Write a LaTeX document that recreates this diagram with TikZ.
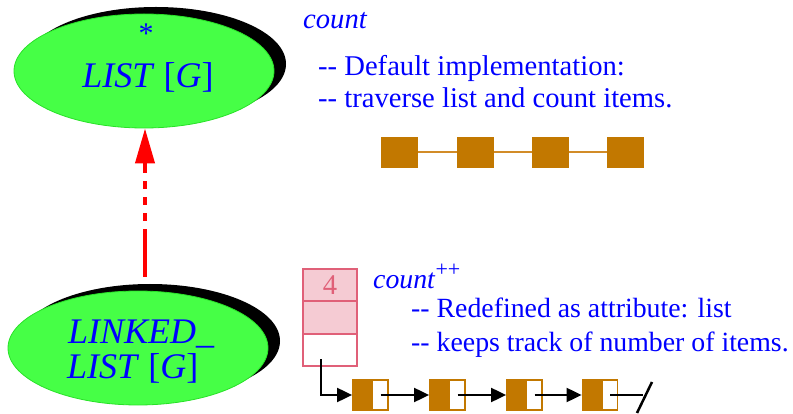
\documentclass[tikz,border=0pt]{standalone}
\usepackage{fontspec}
\setmainfont{Liberation Serif}
\usetikzlibrary{shapes.geometric,arrows.meta}
\definecolor{lgreen}{RGB}{70,255,70}
\definecolor{lgreenb}{RGB}{40,225,40}
\definecolor{cbrown}{RGB}{194,120,0}
\definecolor{cbrownl}{RGB}{210,140,40}
\definecolor{pinkfill}{RGB}{245,203,211}
\definecolor{pinkline}{RGB}{224,96,120}
\definecolor{tblue}{RGB}{0,0,255}
\tikzset{
  classell/.style={ellipse, fill=lgreen, draw=lgreenb, line width=0.8pt,
    minimum width=260pt, minimum height=114pt, inner sep=0pt},
  shadowell/.style={fill=black},
  bigtxt/.style={text=tblue, inner sep=0pt, font=\fontsize{36}{40}\selectfont},
  txt/.style={text=tblue, inner sep=0pt, anchor=base west, font=\fontsize{28.6}{33}\selectfont},
  txtb/.style={txt, font=\fontsize{27.8}{33}\selectfont},
  topbox/.style={rectangle, fill=cbrown, minimum width=37pt, minimum height=31pt, inner sep=0pt},
  cellbox/.style={rectangle, draw=pinkline, line width=2pt, minimum width=54pt, minimum height=32pt, inner sep=0pt},
  listbox/.style={rectangle, draw=cbrown, line width=1.8pt, fill=white, minimum width=35pt, minimum height=30pt, inner sep=0pt,
    path picture={\fill[cbrown] (path picture bounding box.south west) rectangle ([xshift=20pt]path picture bounding box.north west);}},
  link/.style={black, line width=2pt, -{Triangle[length=15pt,width=14pt]}},
  inherit/.style={red, line width=4pt, dash pattern=on 48pt off 8pt on 8pt off 8pt on 8pt off 8pt on 8pt off 8pt,
    -{Triangle[length=35pt,width=19pt]}}
}
\begin{document}
\begin{tikzpicture}[x=1pt,y=-1pt]
\useasboundingbox (0,0) rectangle (793,414);

% top class ellipse
\fill[shadowell] (156,64) ellipse (130pt and 57pt);
\node[classell] (list) at (144,71) {};
\node[bigtxt, font=\fontsize{30}{30}\selectfont] (star) at (146,34) {*};
\node[bigtxt, anchor=base] (listname) at (148,88) {\textit{LIST} [\textit{G}]};

% bottom class ellipse
\fill[shadowell] (150,341) ellipse (130pt and 57pt);
\node[classell] (linked) at (138,348) {};
\node[bigtxt, anchor=base west] (ln1) at (68,343) {\textit{LINKED\_}};
\node[bigtxt, anchor=base west] (ln2) at (67,378) {\textit{LIST} [\textit{G}]};

% inheritance arrow
\coordinate (astart) at (145,277);
\draw[inherit] (astart) -- (astart |- list.south);

% top texts
\node[txt] (count1) at (303,29) {\textit{count}};
\node[txt] (c1a) at (318,76) {-{}- Default implementation:};
\node[txt] (c1b) at (318,108) {-{}- traverse list and count items.};

% top chain
\draw[cbrownl, line width=2pt] (418,152) -- (457,152);
\draw[cbrownl, line width=2pt] (493,152) -- (532,152);
\draw[cbrownl, line width=2pt] (569,152) -- (607,152);
\node[topbox] (t1) at (399.5,152.5) {};
\node[topbox] (t2) at (475,152.5) {};
\node[topbox] (t3) at (550.5,152.5) {};
\node[topbox] (t4) at (625.5,152.5) {};

% pink object
\node[cellbox, fill=pinkfill, text=pinkline, font=\fontsize{28.6}{33}\selectfont] (cell1) at (330,285.5) {4};
\node[cellbox, fill=pinkfill] (cell2) at (330,317.5) {};
\node[cellbox, fill=white] (cell3) at (330,349.5) {};

% bottom texts
\node[txtb] (count2) at (373,288) {\textit{count}\raisebox{11pt}{\fontsize{22}{22}\selectfont ++}};
\node[txtb] (c2a) at (411,318) {-{}- Redefined as attribute: list};
\node[txtb] (c2b) at (411,351) {-{}- keeps track of number of items.};

% linked list
\node[listbox] (b1) at (370.5,395) {};
\node[listbox] (b2) at (447.5,395) {};
\node[listbox] (b3) at (524.5,395) {};
\node[listbox] (b4) at (600,395) {};
\coordinate (p0) at (321,359);
\draw[link] (p0) |- (b1.west);
\draw[link] ([xshift=10pt]b1.center) -- (b2.west);
\draw[link] ([xshift=10pt]b2.center) -- (b3.west);
\draw[link] ([xshift=10pt]b3.center) -- (b4.west);
\coordinate (vend) at (643,395);
\draw[black, line width=2pt] ([xshift=10pt]b4.center) -- (vend);
\coordinate (vtop) at (652,382);
\coordinate (vbot) at (637,413);
\draw[black, line width=2.5pt] (vtop) -- (vbot);
\end{tikzpicture}
\end{document}
